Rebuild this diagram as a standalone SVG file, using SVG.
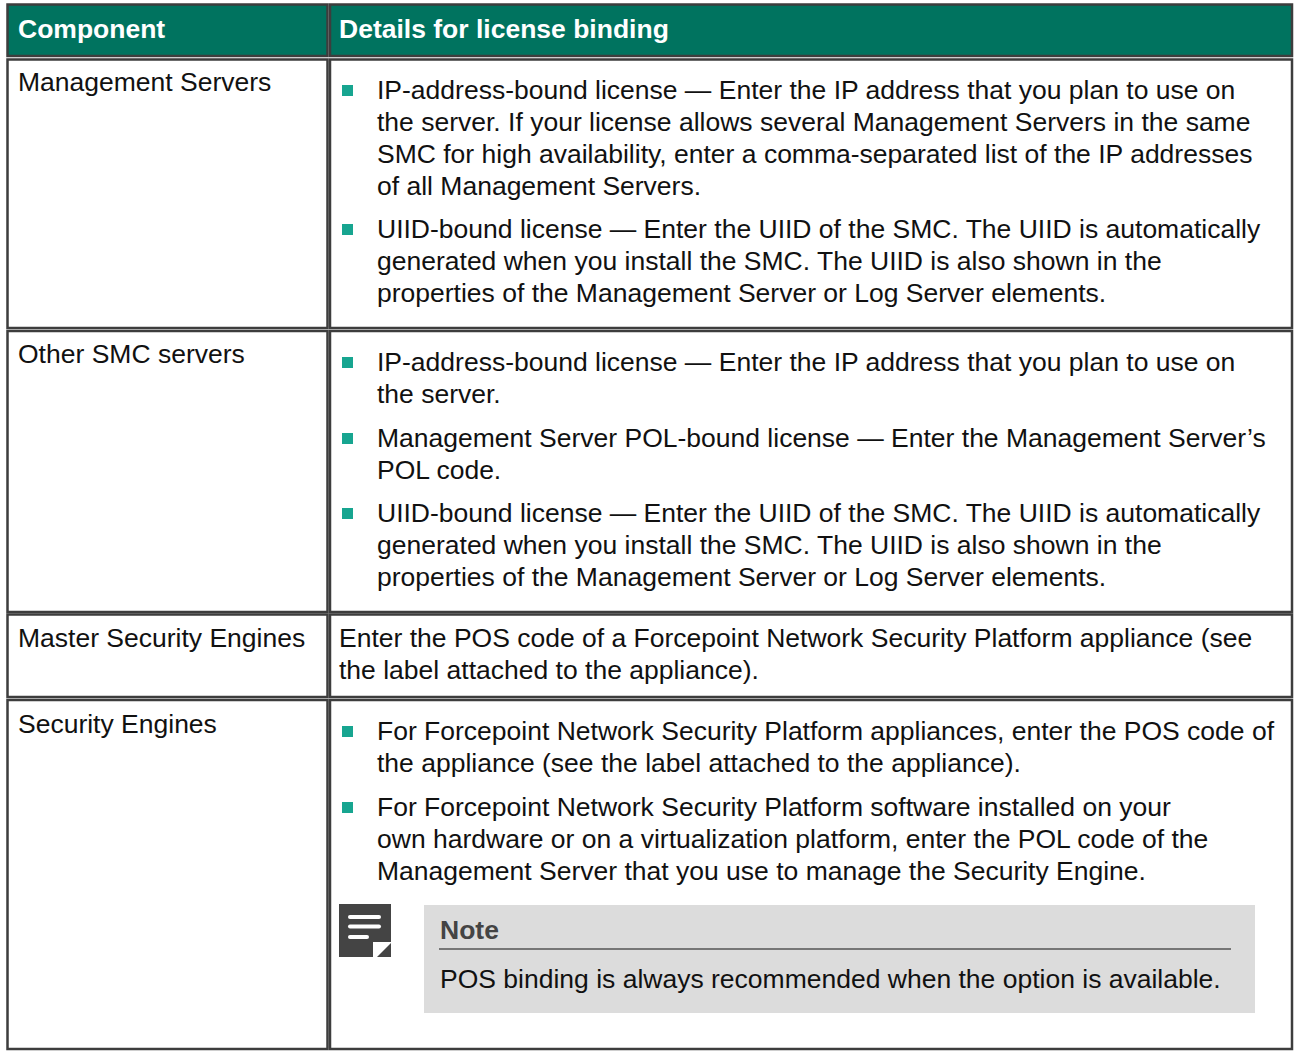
<svg xmlns="http://www.w3.org/2000/svg" width="1302" height="1051" viewBox="0 0 1302 1051">
<style>
.cell{fill:#ffffff;stroke:#3d3d3d;stroke-width:2.5}
.head{fill:#00735f;stroke:#3d3d3d;stroke-width:2.5}
.ht{font-family:"Liberation Sans",Arial,sans-serif;font-size:26.5px;font-weight:bold;fill:#ffffff}
.t{font-family:"Liberation Sans",Arial,sans-serif;font-size:26.5px;fill:#111111}
.b{fill:#17a590}
.nt{font-family:"Liberation Sans",Arial,sans-serif;font-size:26.5px;font-weight:bold;fill:#444444}
</style>
<rect width="1302" height="1051" fill="#ffffff"/>
<g id="header">
<rect class="head" x="7.5" y="4.5" width="320" height="51.5"/>
<rect class="head" x="330" y="4.5" width="962" height="51.5"/>
<text class="ht" x="18" y="38">Component</text>
<text class="ht" x="339" y="38">Details for license binding</text>
</g>
<g id="row-management-servers">
<rect class="cell" x="7.5" y="59.5" width="320" height="268.5"/>
<rect class="cell" x="330" y="59.5" width="962" height="268.5"/>
<text class="t" x="18" y="91">Management Servers</text>
<rect class="b" x="342" y="85" width="11" height="11"/>
<text class="t" x="377" y="99">IP-address-bound license — Enter the IP address that you plan to use on</text>
<text class="t" x="377" y="131">the server. If your license allows several Management Servers in the same</text>
<text class="t" x="377" y="163">SMC for high availability, enter a comma-separated list of the IP addresses</text>
<text class="t" x="377" y="195">of all Management Servers.</text>
<rect class="b" x="342" y="224" width="11" height="11"/>
<text class="t" x="377" y="238">UIID-bound license — Enter the UIID of the SMC. The UIID is automatically</text>
<text class="t" x="377" y="270">generated when you install the SMC. The UIID is also shown in the</text>
<text class="t" x="377" y="302">properties of the Management Server or Log Server elements.</text>
</g>
<g id="row-other-smc-servers">
<rect class="cell" x="7.5" y="331" width="320" height="281"/>
<rect class="cell" x="330" y="331" width="962" height="281"/>
<text class="t" x="18" y="363">Other SMC servers</text>
<rect class="b" x="342" y="357" width="11" height="11"/>
<text class="t" x="377" y="371">IP-address-bound license — Enter the IP address that you plan to use on</text>
<text class="t" x="377" y="403">the server.</text>
<rect class="b" x="342" y="433" width="11" height="11"/>
<text class="t" x="377" y="447">Management Server POL-bound license — Enter the Management Server’s</text>
<text class="t" x="377" y="479">POL code.</text>
<rect class="b" x="342" y="508" width="11" height="11"/>
<text class="t" x="377" y="522">UIID-bound license — Enter the UIID of the SMC. The UIID is automatically</text>
<text class="t" x="377" y="554">generated when you install the SMC. The UIID is also shown in the</text>
<text class="t" x="377" y="586">properties of the Management Server or Log Server elements.</text>
</g>
<g id="row-master-security-engines">
<rect class="cell" x="7.5" y="614.5" width="320" height="82.5"/>
<rect class="cell" x="330" y="614.5" width="962" height="82.5"/>
<text class="t" x="18" y="647">Master Security Engines</text>
<text class="t" x="339" y="647">Enter the POS code of a Forcepoint Network Security Platform appliance (see</text>
<text class="t" x="339" y="679">the label attached to the appliance).</text>
</g>
<g id="row-security-engines">
<rect class="cell" x="7.5" y="700" width="320" height="349"/>
<rect class="cell" x="330" y="700" width="962" height="349"/>
<text class="t" x="18" y="733">Security Engines</text>
<rect class="b" x="342" y="726" width="11" height="11"/>
<text class="t" x="377" y="740">For Forcepoint Network Security Platform appliances, enter the POS code of</text>
<text class="t" x="377" y="772">the appliance (see the label attached to the appliance).</text>
<rect class="b" x="342" y="802" width="11" height="11"/>
<text class="t" x="377" y="816">For Forcepoint Network Security Platform software installed on your</text>
<text class="t" x="377" y="848">own hardware or on a virtualization platform, enter the POL code of the</text>
<text class="t" x="377" y="880">Management Server that you use to manage the Security Engine.</text>
</g>
<g id="note">
<path d="M339,904 H391 V942 H373 V957 H339 Z" fill="#444444"/>
<path d="M377,957 L391,943 L391,957 Z" fill="#444444"/>
<g stroke="#ffffff" stroke-width="4" stroke-linecap="round">
<line x1="350" y1="917" x2="379" y2="917"/>
<line x1="350" y1="926.5" x2="379" y2="926.5"/>
<line x1="350" y1="937" x2="367" y2="937"/>
</g>
<rect x="424" y="905" width="831" height="108" fill="#dcdcdc"/>
<text class="nt" x="440" y="939">Note</text>
<line x1="439" y1="949" x2="1231" y2="949" stroke="#555555" stroke-width="1.5"/>
<text class="t" x="440" y="988">POS binding is always recommended when the option is available.</text>
</g>
</svg>
